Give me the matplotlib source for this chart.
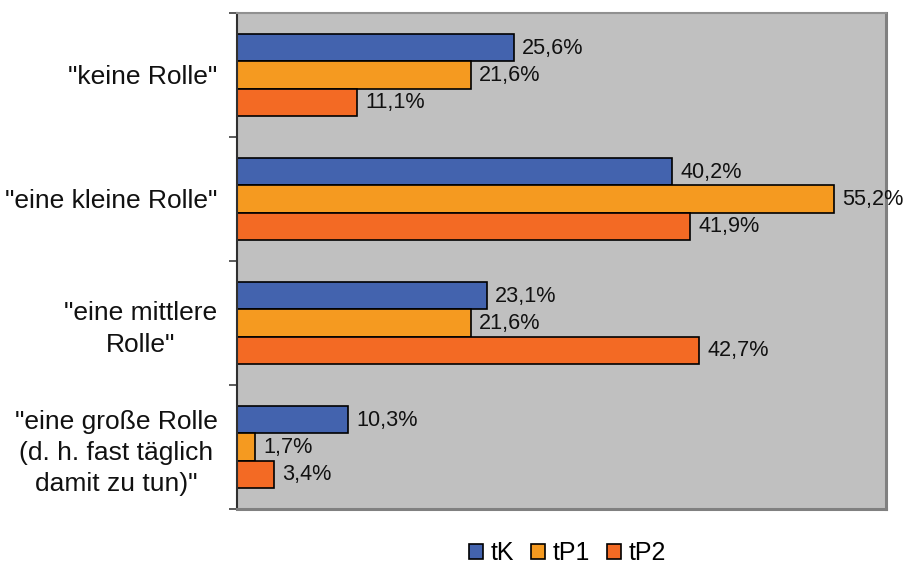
import matplotlib
matplotlib.use("Agg")
import matplotlib.pyplot as plt
import numpy as np

plt.rcParams['font.family'] = ['Liberation Sans', 'DejaVu Sans']

categories = ['"keine Rolle"', '"eine kleine Rolle"', '"eine mittlere\nRolle"',
              '"eine große Rolle\n(d. h. fast täglich\ndamit zu tun)"']
series_names = ['tK', 'tP1', 'tP2']
tK = [25.6, 40.2, 23.1, 10.3]
tP1 = [21.6, 55.2, 21.6, 1.7]
tP2 = [11.1, 41.9, 42.7, 3.4]
colors = ['#4363AE', '#F59A20', '#F36A24']

fig = plt.figure(figsize=(9.05, 5.7), dpi=100)
ax = fig.add_axes([237 / 905, 1 - 509 / 570, (886 - 237) / 905, (509 - 13) / 570])
ax.set_facecolor('#C0C0C0')

bar_h = 0.22
y = np.arange(len(categories))
for i, (name, vals) in enumerate(zip(series_names, [tK, tP1, tP2])):
    pos = y + (i - 1) * bar_h
    bars = ax.barh(pos, vals, height=bar_h, color=colors[i], edgecolor='black',
                   linewidth=1.2, label=name)
    for b, v in zip(bars, vals):
        ax.annotate(f"{v:.1f}".replace('.', ',') + '%',
                    (b.get_width(), b.get_y() + b.get_height() / 2),
                    xytext=(6, -0.5), textcoords='offset points',
                    ha='left', va='center', fontsize=15.6, color='#111111')

ax.set_xlim(0, 60)
ax.set_ylim(len(categories) - 0.5, -0.5)
ax.set_xticks([])

# boundary ticks (major) and category labels (minor)
ax.set_yticks(np.arange(len(categories) + 1) - 0.5)
ax.set_yticklabels([])
ax.tick_params(axis='y', which='major', length=6, width=1.2, color='#404040')
ax.set_yticks(y, minor=True)
ax.set_yticklabels(categories, minor=True, fontsize=19, multialignment='center',
                   linespacing=1.38, color='#111111')
ax.tick_params(axis='y', which='minor', length=0, pad=14)

ax.spines['left'].set_color('#303030')
ax.spines['left'].set_linewidth(1.5)
for s in ['right', 'bottom']:
    ax.spines[s].set_color('#808080')
    ax.spines[s].set_linewidth(2.2)
ax.spines['top'].set_color('#909090')
ax.spines['top'].set_linewidth(1.5)

leg = fig.legend(loc='center', bbox_to_anchor=(0.627, 0.03), ncol=3, frameon=False,
                 fontsize=18, handlelength=0.55, handleheight=0.55, handletextpad=0.3,
                 columnspacing=0.7)
for h in leg.legend_handles:
    h.set_linewidth(1.2)

fig.savefig('out.png', dpi=100)
